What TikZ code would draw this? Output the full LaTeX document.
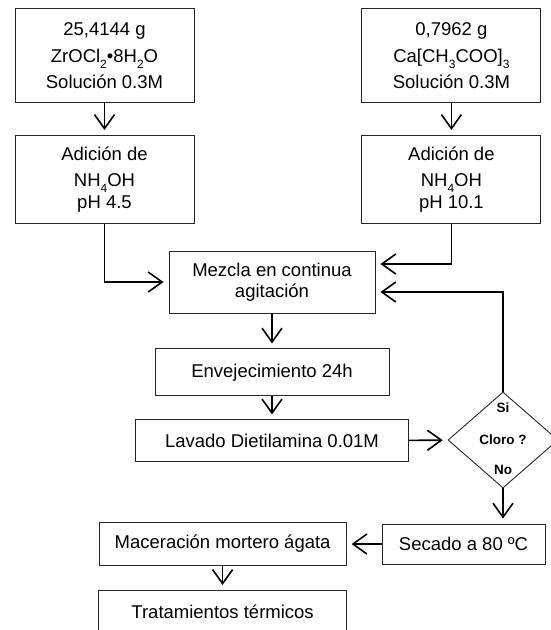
\documentclass[tikz,border=0pt]{standalone}
\usepackage{fontspec}
\setmainfont{Liberation Sans}
\usetikzlibrary{arrows.meta, shapes, positioning}
\newcommand{\bajo}[1]{\raisebox{-0.3em}{\fontsize{12}{12}\selectfont #1}}

\begin{document}
\begin{tikzpicture}[x=1pt, y=1pt, >={Straight Barb[length=14pt,width=20pt]},
    caja/.style={draw=black!85, line width=0.9pt, align=center, inner sep=0pt,
        font=\fontsize{18.5}{21.5}\selectfont},
    decision/.style={diamond, draw=black!85, line width=0.9pt, inner sep=0pt,
        minimum width=110pt, minimum height=96pt,
        font=\fontsize{13.5}{15}\selectfont\bfseries},
    rotulo/.style={font=\fontsize{13.5}{15}\selectfont\bfseries, inner sep=0pt},
    flecha/.style={->, line width=1.6pt, shorten >=5pt}]
    \useasboundingbox (0,0) rectangle (550,-630);

    \node[caja, minimum width=179pt, minimum height=94pt] (zirc) at (104.5,-55.5)
        {25,4144 g\\[5.5pt] ZrOCl\bajo{2}•8H\bajo{2}O\\[4pt] Solución 0.3M};
    \node[caja, minimum width=179pt, minimum height=94pt, right=167pt of zirc] (calcio)
        {0,7962 g\\[5.5pt] Ca[CH\bajo{3}COO]\bajo{3}\\[4pt] Solución 0.3M};
    \node[caja, minimum width=179pt, minimum height=88pt, below=32pt of zirc] (nhzirc)
        {Adición de\\[5pt] NH\bajo{4}OH\\ pH 4.5};
    \node[caja, minimum width=179pt, minimum height=88pt, below=32pt of calcio] (nhcalcio)
        {Adición de\\[5pt] NH\bajo{4}OH\\ pH 10.1};
    \node[caja, minimum width=206pt, minimum height=62pt] (mezcla) at (272,-282)
        {Mezcla en continua\\ agitación};
    \node[caja, minimum width=234pt, minimum height=47pt, below=35pt of mezcla] (envej)
        {Envejecimiento 24h};
    \node[caja, minimum width=273pt, minimum height=42pt, below=23pt of envej] (lavado)
        {Lavado Dietilamina 0.01M};
    \node[decision] (cloro) at (503,-440) {Cloro ?};
    \node[rotulo] (si) at ([yshift=-16pt]cloro.north) {Si};
    \node[rotulo] (no) at ([yshift=19pt]cloro.south) {No};
    \node[caja, minimum width=163pt, minimum height=40pt] (secado) at (463.5,-544)
        {Secado a 80 ºC};
    \node[caja, minimum width=247pt, minimum height=43pt, left=35pt of secado] (macera)
        {Maceración mortero ágata};
    \node[caja, minimum width=248pt, minimum height=43pt, below=24pt of macera] (termico)
        {Tratamientos térmicos};

    \draw[flecha] (zirc) -- (nhzirc);
    \draw[flecha] (calcio) -- (nhcalcio);
    \draw[flecha] (nhzirc) |- (mezcla);
    \draw[flecha] (nhcalcio) |- ([yshift=18pt]mezcla.east);
    \draw[flecha] (mezcla) -- (envej);
    \draw[flecha] (envej) -- (lavado);
    \draw[flecha] (lavado) -- (cloro);
    \draw[flecha] (cloro) |- ([yshift=-10pt]mezcla.east);
    \draw[flecha] (cloro) -- (cloro.south |- secado.north);
    \draw[flecha] (secado) -- (macera);
    \draw[flecha] (macera) -- (termico);
\end{tikzpicture}
\end{document}
